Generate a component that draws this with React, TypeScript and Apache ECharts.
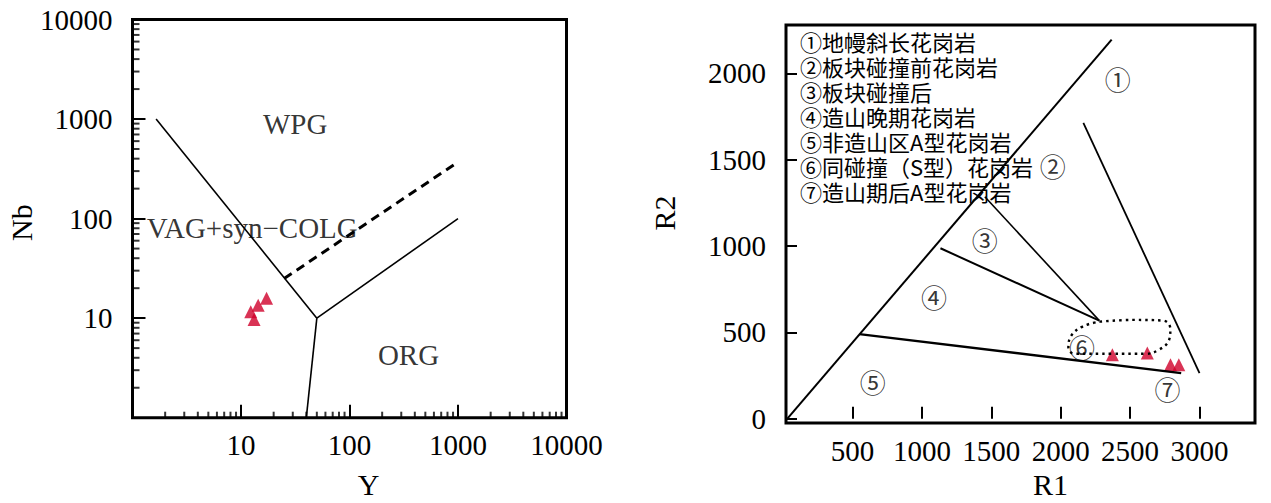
import React, { useEffect, useRef } from 'react';
import * as echarts from 'echarts';

// ---------- Left diagram: Nb–Y (log–log) ----------
const yNbSamples = [
  [17.2, 15.8],
  [14.4, 13.5],
  [12.3, 11.6],
  [13.2, 9.7],
];
const wpgVagLine = [[1.65, 1000], [50, 10]];
const wpgOrgLine = [[50, 10], [1000, 100]];
const vagOrgLine = [[40, 1], [50, 10]];
const dashedLine = [[25, 25], [1000, 370]];
const leftFieldLabels = [
  { name: 'WPG', value: [31.6, 890] },
  { name: 'VAG+syn−COLG', value: [12.7, 80] },
  { name: 'ORG', value: [350, 4.3] },
];
const logMultipliers = [2, 3, 4, 5, 6, 7, 8, 9];
const logDecades = [1, 10, 100, 1000];

// ---------- Right diagram: R1–R2 ----------
const r1r2Samples = [
  [2372, 370],
  [2624, 380],
  [2791, 312],
  [2851, 312],
];
const diagonalLine = [[30, 0], [2367, 2195]];
const boundary45 = [[549, 490], [2868, 264]];
const boundary34 = [[1133, 987], [2278, 568]];
const boundary23 = [[1453, 1285], [2278, 568]];
const boundary17 = [[2163, 1713], [3000, 264]];
const field6Loop = [
  [2281, 562], [2520, 572], [2740, 568], [2790, 520], [2778, 450],
  [2705, 398], [2620, 376], [2370, 376], [2100, 376], [2055, 410],
  [2075, 480], [2160, 535], [2281, 562],
];
const rightFieldLabels = [
  { name: '①', value: [2410, 1971] },
  { name: '②', value: [1942, 1468] },
  { name: '③', value: [1453, 1040] },
  { name: '④', value: [1087, 705] },
  { name: '⑤', value: [645, 215] },
  { name: '⑥', value: [2153, 418] },
  { name: '⑦', value: [2770, 176] },
];
const legendLines = [
  '①地幔斜长花岗岩',
  '②板块碰撞前花岗岩',
  '③板块碰撞后',
  '④造山晚期花岗岩',
  '⑤非造山区A型花岗岩',
  '⑥同碰撞（S型）花岗岩',
  '⑦造山期后A型花岗岩',
];
const r1Ticks = [500, 1000, 1500, 2000, 2500, 3000];
const r2Ticks = [0, 500, 1000, 1500, 2000];

const SERIF = "'Liberation Serif', 'Times New Roman', serif";
const CJK = "'Noto Sans CJK SC', sans-serif";
const RED = '#d0002a';

function lineSeries(data: number[][], idx: number, lineStyle: any, extra: any = {}) {
  return {
    type: 'line',
    xAxisIndex: idx,
    yAxisIndex: idx,
    data,
    symbol: 'none',
    silent: true,
    lineStyle: { color: '#000', ...lineStyle },
    ...extra,
  };
}

const plain = (v: number) => String(Math.round(v));

export default function App() {
  const ref = useRef<HTMLDivElement>(null);
  useEffect(() => {
    const chart = echarts.init(ref.current!, null, { renderer: 'svg' });

    // minor log ticks: positions along each axis of the left diagram
    const minorX: number[][] = [];
    const minorY: number[][] = [];
    logDecades.forEach((d) =>
      logMultipliers.forEach((m) => {
        minorX.push([m * d, 1]);
        minorY.push([1, m * d]);
      })
    );

    const tickStyle = { show: true, inside: true, lineStyle: { color: '#000', width: 2 } };
    const axisCommon = {
      axisLine: { show: false },
      splitLine: { show: false },
      nameLocation: 'middle',
    };
    const nameStyle = { fontFamily: SERIF, fontSize: 30, color: '#000' };
    const labelCommon = { show: true, fontFamily: SERIF, fontSize: 29, color: '#000' };
    const gridCommon = {
      show: true,
      borderColor: '#000',
      borderWidth: 3,
      backgroundColor: 'transparent',
      containLabel: false,
      outerBoundsMode: 'none',
    };

    const option: any = {
      animation: false,
      backgroundColor: '#fff',
      grid: [
        { ...gridCommon, left: 132.5, top: 19.5, width: 434, height: 398.2 },
        { ...gridCommon, left: 786, top: 25, width: 469, height: 398 },
      ],
      xAxis: [
        {
          ...axisCommon,
          gridIndex: 0,
          type: 'log',
          logBase: 10,
          min: 1,
          max: 10000,
          splitNumber: 4,
          name: 'Y',
          nameGap: 52,
          nameTextStyle: { ...nameStyle, padding: [0, 0, 0, 38] },
          axisTick: { ...tickStyle, length: 13 },
          axisLabel: { ...labelCommon, margin: 13, showMinLabel: false, formatter: plain },
        },
        {
          ...axisCommon,
          gridIndex: 1,
          type: 'value',
          min: 20,
          max: 3400,
          name: 'R1',
          nameGap: 46,
          nameTextStyle: { ...nameStyle, padding: [0, 0, 0, 60] },
          axisTick: { ...tickStyle, length: 12, customValues: r1Ticks },
          axisLabel: { ...labelCommon, margin: 13, customValues: r1Ticks, formatter: plain },
        },
      ],
      yAxis: [
        {
          ...axisCommon,
          gridIndex: 0,
          type: 'log',
          logBase: 10,
          min: 1,
          max: 10000,
          splitNumber: 4,
          name: 'Nb',
          nameGap: 90,
          nameTextStyle: { ...nameStyle, padding: [0, 8, 0, 0] },
          axisTick: { ...tickStyle, length: 13 },
          axisLabel: { ...labelCommon, margin: 20, showMinLabel: false, formatter: plain },
        },
        {
          ...axisCommon,
          gridIndex: 1,
          type: 'value',
          min: -25,
          max: 2280,
          name: 'R2',
          nameGap: 107,
          nameTextStyle: { ...nameStyle, padding: [0, 0, 0, 22] },
          axisTick: { ...tickStyle, length: 11, customValues: r2Ticks },
          axisLabel: { ...labelCommon, margin: 20, customValues: r2Ticks, formatter: plain },
        },
      ],
      graphic: [
        {
          type: 'text',
          left: 800,
          top: 28,
          silent: true,
          style: { text: legendLines.join('\n'), font: `22px ${CJK}`, lineHeight: 25, fill: '#000' },
        },
      ],
      series: [
        // minor log ticks (x axis), drawn as short bars at the axis
        {
          type: 'scatter',
          xAxisIndex: 0,
          yAxisIndex: 0,
          data: minorX,
          symbol: 'rect',
          symbolSize: [2, 6],
          symbolOffset: [0, -3],
          itemStyle: { color: '#000' },
          silent: true,
          clip: false,
        },
        // minor log ticks (y axis)
        {
          type: 'scatter',
          xAxisIndex: 0,
          yAxisIndex: 0,
          data: minorY,
          symbol: 'rect',
          symbolSize: [7, 2],
          symbolOffset: [3.5, 0],
          itemStyle: { color: '#000' },
          silent: true,
          clip: false,
        },
        lineSeries(wpgVagLine, 0, { width: 1.6 }),
        lineSeries(wpgOrgLine, 0, { width: 1.6 }),
        lineSeries(vagOrgLine, 0, { width: 1.6 }),
        lineSeries(dashedLine, 0, { width: 3, type: [9, 6] }),
        {
          type: 'scatter',
          xAxisIndex: 0,
          yAxisIndex: 0,
          data: leftFieldLabels,
          symbol: 'circle',
          symbolSize: 1,
          itemStyle: { color: 'transparent' },
          silent: true,
          label: { show: true, position: 'inside', formatter: '{b}', fontFamily: SERIF, fontSize: 29, color: '#000' },
        },
        {
          type: 'scatter',
          xAxisIndex: 0,
          yAxisIndex: 0,
          data: yNbSamples,
          symbol: 'triangle',
          symbolSize: 13,
          itemStyle: { color: RED },
        },
        // right diagram
        lineSeries(diagonalLine, 1, { width: 2 }),
        lineSeries(boundary45, 1, { width: 2.4 }),
        lineSeries(boundary34, 1, { width: 2 }),
        lineSeries(boundary23, 1, { width: 1.6 }),
        lineSeries(boundary17, 1, { width: 1.8 }),
        lineSeries(field6Loop, 1, { width: 2.4, type: [2.5, 4] }, { smooth: 0.4 }),
        {
          type: 'scatter',
          xAxisIndex: 1,
          yAxisIndex: 1,
          data: rightFieldLabels,
          symbol: 'circle',
          symbolSize: 1,
          itemStyle: { color: 'transparent' },
          silent: true,
          label: { show: true, position: 'inside', formatter: '{b}', fontFamily: CJK, fontSize: 26, color: '#000' },
        },
        {
          type: 'scatter',
          xAxisIndex: 1,
          yAxisIndex: 1,
          data: r1r2Samples,
          symbol: 'triangle',
          symbolSize: 13,
          itemStyle: { color: RED },
        },
      ],
    };
    chart.setOption(option);
    return () => chart.dispose();
  }, []);
  return <div ref={ref} style={{ position: 'absolute', left: 0, top: 0, width: 1271, height: 503 }} />;
}
